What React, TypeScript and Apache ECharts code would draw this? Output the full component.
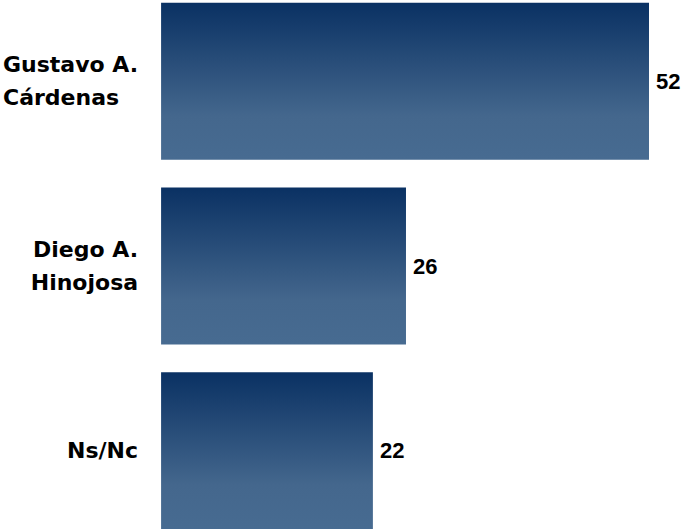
import React, { useEffect, useRef } from "react";
import * as echarts from "echarts";

const categories = ["Gustavo A.\nCárdenas", "Diego A.\nHinojosa", "Ns/Nc"];
const values = [51.6, 25.9, 22.4];

const labelFont = {
  fontFamily: "DejaVu Sans",
  fontWeight: "bold",
  fontSize: 22,
  lineHeight: 33,
  color: "#000000",
};

export default function App() {
  const ref = useRef<HTMLDivElement>(null);
  useEffect(() => {
    if (!ref.current) return;
    const chart = echarts.init(ref.current, undefined, { renderer: "svg" });
    chart.setOption({
      animation: false,
      backgroundColor: "#ffffff",
      grid: { left: 161, right: 35, top: 0, bottom: 0, containLabel: false },
      xAxis: {
        type: "value",
        min: 0,
        max: 51.6,
        show: false,
      },
      yAxis: {
        type: "category",
        inverse: true,
        data: categories,
        axisLine: { show: false },
        axisTick: { show: false },
        splitLine: { show: false },
        axisLabel: {
          margin: 23,
          ...labelFont,
          align: "right",
          formatter: (v: string, i: number) =>
            i === 0
              ? v
                  .split("\n")
                  .map((s) => "{l|" + s + "}")
                  .join("\n")
              : v,
          rich: {
            l: { ...labelFont, align: "left" },
          },
        },
      },
      series: [
        {
          type: "bar",
          data: values,
          barWidth: 157,
          itemStyle: {
            color: new echarts.graphic.LinearGradient(0, 0, 0, 1, [
              { offset: 0, color: "#0a3163" },
              { offset: 0.72, color: "#44678d" },
              { offset: 1, color: "#476b91" },
            ]),
          },
          label: {
            show: true,
            position: "right",
            distance: 7,
            formatter: (p: any) => String(Math.round(p.value)),
            fontFamily: "Liberation Sans, Arial, sans-serif",
            fontWeight: "bold",
            fontSize: 22,
            color: "#000000",
          },
        },
      ],
    });
    return () => chart.dispose();
  }, []);
  return (
    <div
      ref={ref}
      style={{ width: 684, height: 554, position: "fixed", left: 0, top: -11 }}
    />
  );
}
